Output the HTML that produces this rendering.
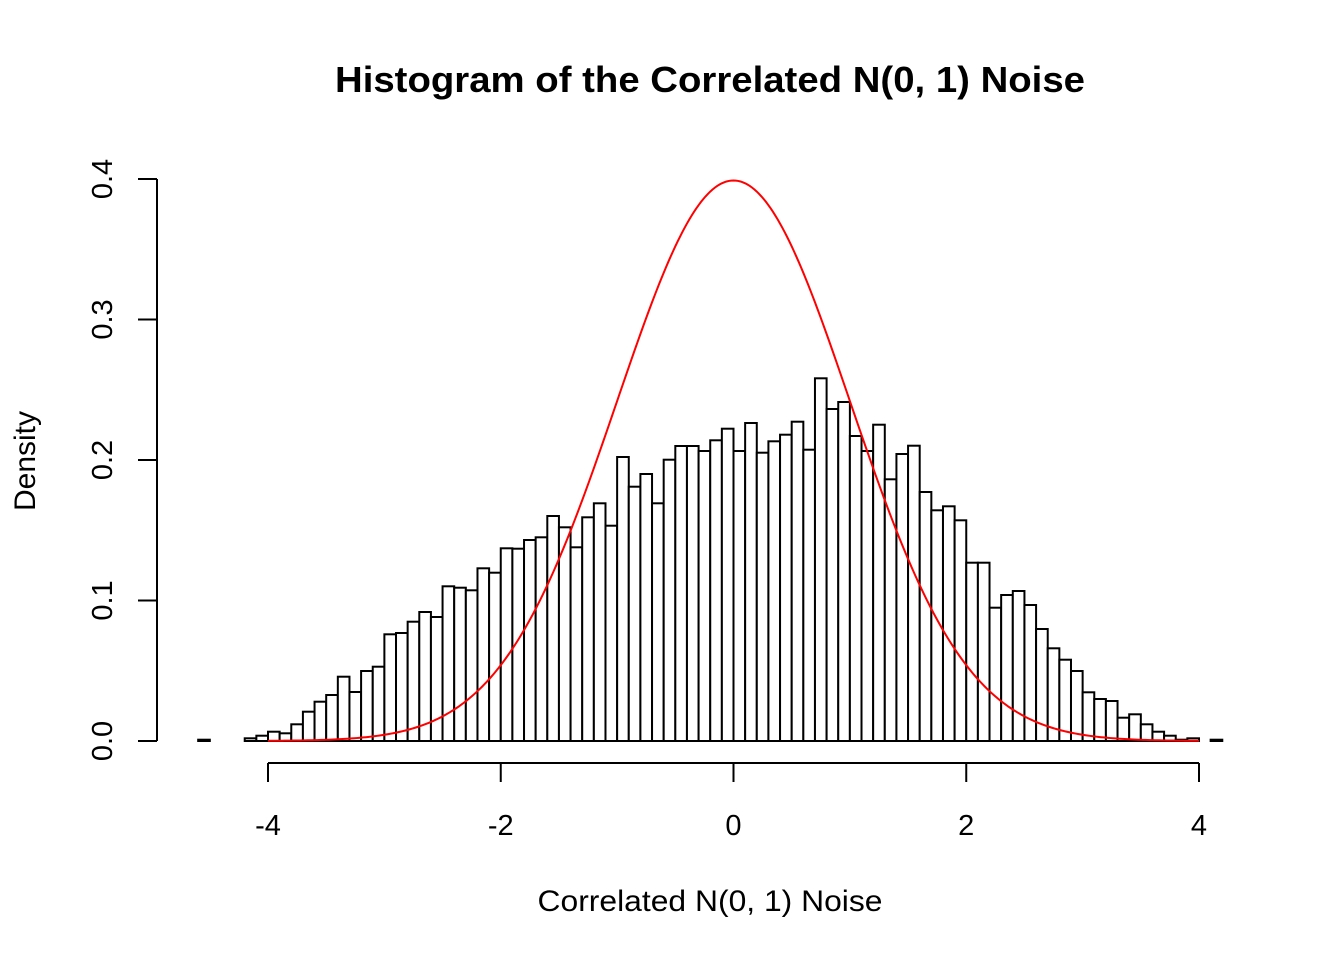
<!DOCTYPE html>
<html><head><meta charset="utf-8"><style>
html,body{margin:0;padding:0;background:#fff}
svg{display:block}
text{font-family:"Liberation Sans",Arial,sans-serif;fill:#000}
</style></head><body>
<svg id="s" width="1344" height="960" xmlns="http://www.w3.org/2000/svg">
<text x="710" y="92" font-size="36" font-weight="bold" text-anchor="middle" textLength="750" lengthAdjust="spacingAndGlyphs">Histogram of the Correlated N(0, 1) Noise</text>
<text x="710" y="911" font-size="30" text-anchor="middle" textLength="345" lengthAdjust="spacingAndGlyphs">Correlated N(0, 1) Noise</text>
<text transform="translate(35,461) rotate(-90)" font-size="30" text-anchor="middle">Density</text>
<g id="bars" fill="#fff" stroke="#000" stroke-width="2"></g>
<path id="curve" fill="none" stroke="#ff0000" stroke-width="2"/>
<g stroke="#000" stroke-width="2" fill="none">
<line x1="157" y1="179" x2="157" y2="741"/>
<line x1="138" y1="741" x2="157" y2="741"/>
<line x1="138" y1="600.5" x2="157" y2="600.5"/>
<line x1="138" y1="460" x2="157" y2="460"/>
<line x1="138" y1="319.5" x2="157" y2="319.5"/>
<line x1="138" y1="179" x2="157" y2="179"/>
<line x1="268" y1="763" x2="1199" y2="763"/>
<line x1="268" y1="763" x2="268" y2="782"/>
<line x1="500.75" y1="763" x2="500.75" y2="782"/>
<line x1="733.5" y1="763" x2="733.5" y2="782"/>
<line x1="966.25" y1="763" x2="966.25" y2="782"/>
<line x1="1199" y1="763" x2="1199" y2="782"/>
</g>
<g font-size="29" text-anchor="middle">
<text transform="translate(112,741) rotate(-90)">0.0</text>
<text transform="translate(112,600.5) rotate(-90)">0.1</text>
<text transform="translate(112,460) rotate(-90)">0.2</text>
<text transform="translate(112,319.5) rotate(-90)">0.3</text>
<text transform="translate(112,179) rotate(-90)">0.4</text>
<text x="268" y="835">-4</text>
<text x="500.75" y="835">-2</text>
<text x="733.5" y="835">0</text>
<text x="966.25" y="835">2</text>
<text x="1199" y="835">4</text>
</g>
</svg>
<script>
var tops=[739.7,741,741,741,738.3,735.7,731.7,733.3,724.3,711.7,701.7,695,676.7,692,671,666.7,634.3,633,621.7,612,617,586.3,587.7,590.3,568.3,572.7,548.3,548.7,540,537.3,516,527.3,547.3,517.3,503.3,525.7,457,486.7,474,503.3,459.7,446,446,451,440.3,428.7,451,423,452.7,441.3,434.7,421.7,449.7,378.3,409,402,436,451,424.7,479.3,454,445.7,492,510.3,506.3,520.3,562.7,562.7,607.7,595,591,605,629,648.3,659.7,671,692.3,699,701,717.7,714.3,724.3,731.7,735.7,739.7,738.3,741,739.7];
var sx=116.375,x0=733.5,g=document.getElementById('bars'),h='';
for(var i=0;i<tops.length;i++){var xl=x0+(-4.6+0.1*i)*sx;h+='<rect x="'+xl.toFixed(2)+'" y="'+tops[i]+'" width="'+(0.1*sx).toFixed(2)+'" height="'+(741-tops[i]).toFixed(2)+'"/>';}
g.innerHTML=h;
var d='';for(var j=0;j<=400;j++){var x=-4+j*0.02;var y=Math.exp(-x*x/2)/Math.sqrt(2*Math.PI);d+=(j?'L':'M')+(x0+x*sx).toFixed(2)+','+(741-y*1405).toFixed(2);}
document.getElementById('curve').setAttribute('d',d);
</script>
</body></html>
